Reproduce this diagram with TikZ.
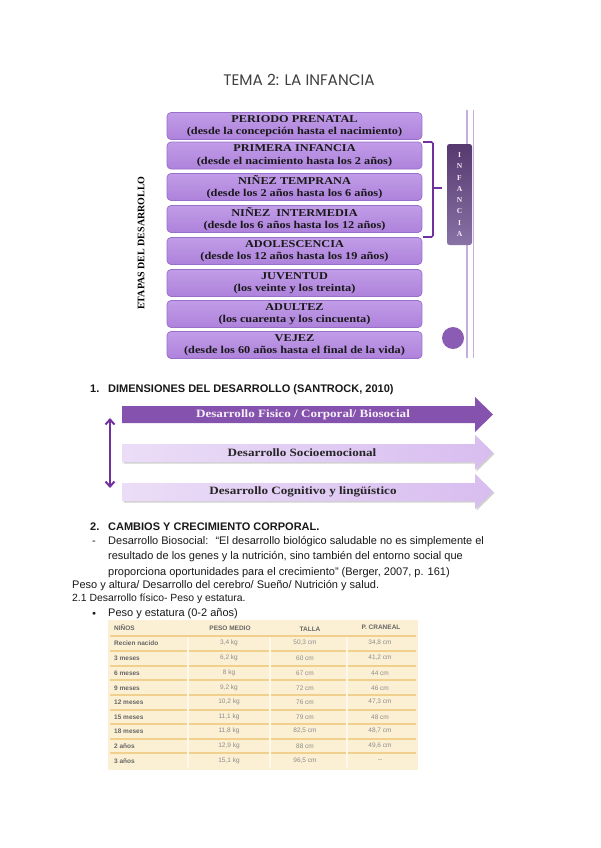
\documentclass[tikz,border=0pt]{standalone}
\usepackage{fontspec}
\setmainfont{Liberation Serif}
\newfontfamily\schoolf{Liberation Serif}[FakeStretch=1.17]
\newfontfamily\arialf{Liberation Sans}
\newfontfamily\titlef{Poppins}
\usetikzlibrary{arrows.meta}
\definecolor{stagetop}{HTML}{C19CE8}
\definecolor{stagebot}{HTML}{AE82DB}
\definecolor{stageedge}{HTML}{9A6ECB}
\definecolor{bracketc}{HTML}{7030A0}
\definecolor{barline}{HTML}{C7ADDF}
\definecolor{inftop}{HTML}{56396F}
\definecolor{infbot}{HTML}{8872A6}
\definecolor{dotc}{HTML}{8A5CB4}
\definecolor{arrdark}{HTML}{8552AD}
\definecolor{arrlightL}{HTML}{EBDDF7}
\definecolor{arrlightR}{HTML}{D8BDF0}
\definecolor{tabbg}{HTML}{FCF0D4}
\definecolor{tabline}{HTML}{F1D08E}
\definecolor{tabv}{HTML}{FFF8E8}
\begin{document}
\begin{tikzpicture}[x=1pt,y=-1pt,
  stage/.style={rounded corners=4pt, top color=stagetop, bottom color=stagebot, draw=stageedge, line width=0.7pt,
    minimum width=255pt, minimum height=27pt, inner sep=0pt, align=center, text=black!90,
    font=\schoolf\bfseries\fontsize{10.5}{12.3}\selectfont},
  bodytxt/.style={anchor=base west, inner sep=0pt, font=\arialf\fontsize{11}{13}\selectfont, text=black!90},
  smalltxt/.style={anchor=base west, inner sep=0pt, font=\arialf\fontsize{10.4}{12}\selectfont, text=black!90},
  headtxt/.style={anchor=base west, inner sep=0pt, font=\arialf\bfseries\fontsize{11}{13}\selectfont, text=black!90},
  arrtxt/.style={inner sep=0pt, font=\schoolf\bfseries\fontsize{11.2}{13}\selectfont},
  tabhead/.style={inner sep=0pt, font=\arialf\bfseries\fontsize{6.5}{8}\selectfont, text=black!60},
  tablab/.style={anchor=west, inner sep=0pt, font=\arialf\bfseries\fontsize{6.5}{8}\selectfont, text=black!60},
  tabval/.style={inner sep=0pt, font=\arialf\fontsize{6.5}{8}\selectfont, text=black!45}
]
\useasboundingbox[fill=white] (0,0) rectangle (600,848);

% title
\node[font=\titlef\fontsize{15.3}{17}\selectfont, text=black!75] (title) at (299,80) {TEMA 2: LA INFANCIA};

% right vertical double line
\draw[barline, line width=2pt] (467,110) -- (467,358);
\draw[barline, line width=1pt] (473,110) -- (473,358);

% stage boxes
\node[stage] (s1) at (294.5,126) {PERIODO PRENATAL\\(desde la concepción hasta el nacimiento)};
\node[stage] (s2) at (294.5,155.5) {PRIMERA INFANCIA\\(desde el nacimiento hasta los 2 años)};
\node[stage] (s3) at (294.5,187) {NIÑEZ TEMPRANA\\(desde los 2 años hasta los 6 años)};
\node[stage] (s4) at (294.5,219) {NIÑEZ \ INTERMEDIA\\(desde los 6 años hasta los 12 años)};
\node[stage] (s5) at (294.5,251) {ADOLESCENCIA\\(desde los 12 años hasta los 19 años)};
\node[stage] (s6) at (294.5,283) {JUVENTUD\\(los veinte y los treinta)};
\node[stage] (s7) at (294.5,314) {ADULTEZ\\(los cuarenta y los cincuenta)};
\node[stage] (s8) at (294.5,345) {VEJEZ\\(desde los 60 años hasta el final de la vida)};

% left label
\node[rotate=90, inner sep=0pt, font=\bfseries\fontsize{10}{12}\selectfont] (etapas) at (141,243) {ETAPAS DEL DESARROLLO};

% bracket
\draw[bracketc, line width=1.6pt, rounded corners=1.5pt] (423,142) -- (433,142) -- (433,237) -- (423,237);
\draw[bracketc, line width=1.6pt] (433,188) -- (442,188);

% INFANCIA bar
\node[rounded corners=2.5pt, top color=inftop, bottom color=infbot, minimum width=25pt, minimum height=101pt, inner sep=0pt] (infbar) at (459.5,194.5) {};
\node[align=center, inner sep=0pt, text=white!92!violet, font=\bfseries\fontsize{7.5}{11.3}\selectfont] (inftxt) at (infbar.center) {I\\N\\F\\A\\N\\C\\I\\A};

% dot
\node[circle, fill=dotc, minimum size=22pt, inner sep=0pt] (dot) at (453,338) {};

% section 1 heading
\node[headtxt] (h1n) at (90,392) {1.};
\node[headtxt] (h1) at (108,392) {DIMENSIONES DEL DESARROLLO (SANTROCK, 2010)};

% arrows
\fill[arrdark] (122,406) -- (475,406) -- (475,397) -- (493,414.5) -- (475,432) -- (475,423) -- (122,423) -- cycle;
\node[arrtxt, text=white!94!violet] (a1) at (303,414.5) {Desarrollo Fisico / Corporal/ Biosocial};

\fill[black!18] (123.5,445.5) -- (476.5,445.5) -- (476.5,436.5) -- (494.5,454) -- (476.5,471.5) -- (476.5,463.5) -- (123.5,463.5) -- cycle;
\shade[left color=arrlightL, right color=arrlightR] (122,444) -- (475,444) -- (475,435) -- (493,452.5) -- (475,470) -- (475,462) -- (122,462) -- cycle;
\node[arrtxt, text=black!85] (a2) at (302,453) {Desarrollo Socioemocional};

\fill[black!18] (123.5,484.5) -- (476.5,484.5) -- (476.5,475.5) -- (494.5,493) -- (476.5,510.5) -- (476.5,502.5) -- (123.5,502.5) -- cycle;
\shade[left color=arrlightL, right color=arrlightR] (122,483) -- (475,483) -- (475,474) -- (493,491.5) -- (475,509) -- (475,501) -- (122,501) -- cycle;
\node[arrtxt, text=black!85] (a3) at (303,492) {Desarrollo Cognitivo y lingüístico};

\coordinate (dtop) at (110,418);
\coordinate (dbot) at (110,488);
\draw[bracketc, line width=2pt, {Straight Barb[length=5pt,width=9pt]}-{Straight Barb[length=5pt,width=9pt]}] (dtop) -- (dbot);

% section 2
\node[headtxt] (h2n) at (90,530) {2.};
\node[headtxt] (h2) at (108,530) {CAMBIOS Y CRECIMIENTO CORPORAL.};
\node[bodytxt] (dash) at (92,544) {-};
\node[bodytxt] (l1) at (108,544) {Desarrollo Biosocial: \ “El desarrollo biológico saludable no es simplemente el};
\node[bodytxt] (l2) at (108,559.5) {resultado de los genes y la nutrición, sino también del entorno social que};
\node[bodytxt] (l3) at (108,575) {proporciona oportunidades para el crecimiento” (Berger, 2007, p. 161)};
\node[bodytxt] (l4) at (72,588.5) {Peso y altura/ Desarrollo del cerebro/ Sueño/ Nutrición y salud.};
\node[smalltxt] (l5) at (72,601.5) {2.1 Desarrollo físico- Peso y estatura.};
\node[bodytxt, font=\fontsize{7}{8}\selectfont] (bul) at (92,615.5) {$\bullet$};
\node[bodytxt] (l6) at (108,616) {Peso y estatura (0-2 años)};

% table
\fill[tabbg] (108,620) rectangle (418,770);
\foreach \yy in {636,651,666,680,695,710,724,739,753} \draw[tabline, line width=1.2pt] (110,\yy) -- (416,\yy);
\foreach \xx in {188,270,347} \draw[tabv, line width=1.2pt] (\xx,637) -- (\xx,768);
\node[tabhead, anchor=west] (th1) at (114,628) {NIÑOS};
\node[tabhead] (th2) at (230,628) {PESO MEDIO};
\node[tabhead] (th3) at (310,629) {TALLA};
\node[tabhead] (th4) at (381,627) {P. CRANEAL};
\foreach \lab/\pm/\ta/\pc/\yy in {Recien nacido/{3,4 kg}/{50,3 cm}/{34,8 cm}/643,
  3 meses/{6,2 kg}/{60 cm}/{41,2 cm}/658,
  6 meses/{8 kg}/{67 cm}/{44 cm}/673,
  9 meses/{9,2 kg}/{72 cm}/{46 cm}/688,
  12 meses/{10,2 kg}/{76 cm}/{47,3 cm}/702,
  15 meses/{11,1 kg}/{79 cm}/{48 cm}/717,
  18 meses/{11,8 kg}/{82,5 cm}/{48,7 cm}/731,
  2 años/{12,9 kg}/{88 cm}/{49,6 cm}/746,
  3 años/{15,1 kg}/{96,5 cm}/{--}/761} {
  \node[tablab] at (114,\yy) {\lab};
  \node[tabval] at (229,\yy) {\pm};
  \node[tabval] at (305,\yy) {\ta};
  \node[tabval] at (380,\yy) {\pc};
}
\end{tikzpicture}
\end{document}
